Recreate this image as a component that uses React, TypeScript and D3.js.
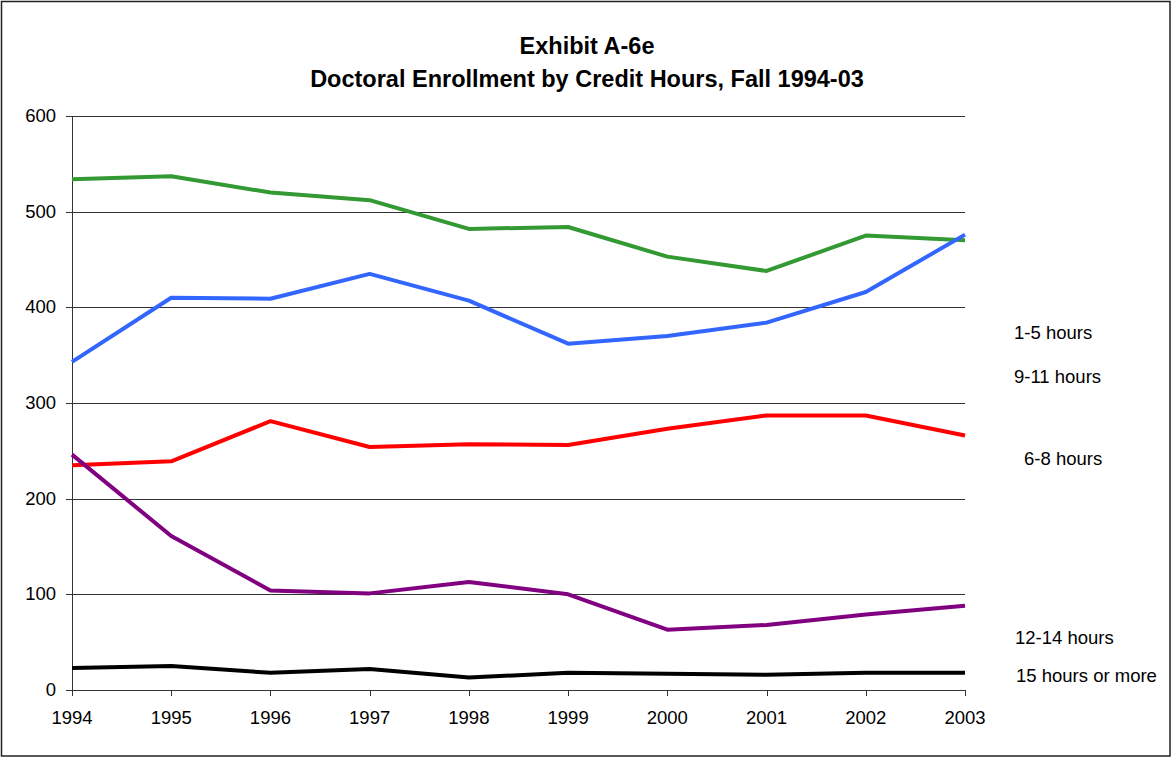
import React from "react";
import * as d3 from "d3";

const years = [1994, 1995, 1996, 1997, 1998, 1999, 2000, 2001, 2002, 2003];
const green = [534, 537, 520, 512, 482, 484, 453, 438, 475, 470];
const blue = [343, 410, 409, 435, 407, 362, 370, 384, 416, 476];
const red = [235, 239, 281, 254, 257, 256, 273, 287, 287, 266];
const purple = [246, 161, 104, 101, 113, 100, 63, 68, 79, 88];
const black = [23, 25, 18, 22, 13, 18, 17, 16, 18, 18];
const yTicks = [0, 100, 200, 300, 400, 500, 600];

const seriesList = [
  { name: "green", values: green, color: "#339933" },
  { name: "blue", values: blue, color: "#3366FF" },
  { name: "red", values: red, color: "#FF0000" },
  { name: "purple", values: purple, color: "#800080" },
  { name: "black", values: black, color: "#000000" },
];

const labels = [
  { text: "1-5 hours", x: 1014, y: 339 },
  { text: "9-11 hours", x: 1014, y: 383 },
  { text: "6-8 hours", x: 1024, y: 465 },
  { text: "12-14 hours", x: 1015, y: 644 },
  { text: "15 hours or more", x: 1016, y: 682 },
];

export default function App() {
  const W = 1173, H = 762;
  const x = d3.scaleLinear().domain([1994, 2003]).range([72, 965]);
  const y = d3.scaleLinear().domain([0, 600]).range([690, 116]);
  const line = d3.line<number>().x((_, i) => x(years[i])).y((d) => y(d));
  const font = "Liberation Sans, Arial, sans-serif";
  return (
    <svg width={W} height={H} style={{ position: "absolute", left: 0, top: 0 }} fontFamily={font}>
      <rect x={0} y={0} width={W} height={H} fill="#fff" />
      <rect x={1.5} y={1.5} width={1168.5} height={754.5} fill="none" stroke="#222" strokeWidth={1.5} />
      <text x={587} y={54} textAnchor="middle" fontWeight="bold" fontSize={23.5}>Exhibit A-6e</text>
      <text x={587} y={87} textAnchor="middle" fontWeight="bold" fontSize={23.5}>
        Doctoral Enrollment by Credit Hours, Fall 1994-03
      </text>
      {yTicks.map((t) => (
        <g key={t}>
          {t > 0 && (
            <line x1={72} x2={965} y1={Math.round(y(t)) + 0.5} y2={Math.round(y(t)) + 0.5} stroke="#333" strokeWidth={1} />
          )}
          <line x1={66} x2={72} y1={Math.round(y(t)) + 0.5} y2={Math.round(y(t)) + 0.5} stroke="#333" />
          <text x={56} y={y(t) + 6} textAnchor="end" fontSize={18.5}>{t}</text>
        </g>
      ))}
      <line x1={72.5} x2={72.5} y1={116} y2={690} stroke="#333" />
      <line x1={72} x2={965} y1={690.5} y2={690.5} stroke="#333" />
      {years.map((yr) => (
        <g key={yr}>
          <line x1={Math.round(x(yr)) + 0.5} x2={Math.round(x(yr)) + 0.5} y1={690} y2={696} stroke="#333" />
          <text x={x(yr)} y={724} textAnchor="middle" fontSize={18.5}>{yr}</text>
        </g>
      ))}
      {seriesList.map((s) => (
        <path key={s.name} d={line(s.values) || ""} fill="none" stroke={s.color} strokeWidth={4} strokeLinejoin="round" />
      ))}
      {labels.map((l) => (
        <text key={l.text} x={l.x} y={l.y} fontSize={18.5}>{l.text}</text>
      ))}
    </svg>
  );
}
